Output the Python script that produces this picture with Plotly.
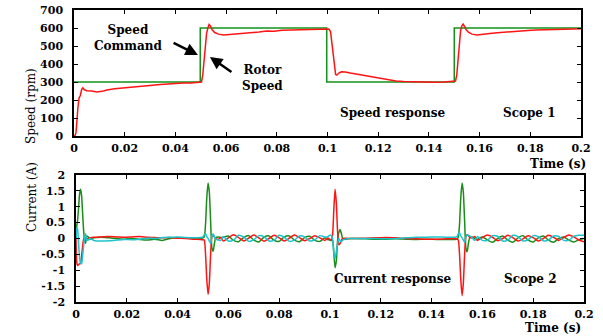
import plotly.graph_objects as go

# ---------------- Scope 1: speed ----------------
cmd_t = [0, 0.0498, 0.0498, 0.0997, 0.0997, 0.1500, 0.1500, 0.2]
cmd_rpm = [300, 300, 600, 600, 300, 300, 600, 600]

rotor_t = [0, 0.0005, 0.0008, 0.001, 0.0015, 0.002, 0.0025, 0.003, 0.0035, 0.004,
           0.005, 0.007, 0.009, 0.011, 0.013, 0.016, 0.019, 0.022, 0.025, 0.028,
           0.031, 0.034, 0.037, 0.040, 0.043, 0.046, 0.049,
           0.0503, 0.0508, 0.0513, 0.0518, 0.0523, 0.0528, 0.0533, 0.0538, 0.0545, 0.0555,
           0.057, 0.059, 0.061, 0.064, 0.067, 0.070, 0.073, 0.076, 0.079, 0.082,
           0.085, 0.088, 0.091, 0.094, 0.097,
           0.1005, 0.1012, 0.1017, 0.1022, 0.1027, 0.1032, 0.1037, 0.1045, 0.1055,
           0.107, 0.109, 0.112, 0.115, 0.118, 0.121, 0.124, 0.127, 0.130, 0.134,
           0.138, 0.142, 0.146,
           0.1505, 0.151, 0.1515, 0.152, 0.1525, 0.153, 0.1535, 0.154, 0.1547, 0.1557,
           0.157, 0.159, 0.161, 0.164, 0.167, 0.170, 0.173, 0.176, 0.179, 0.182,
           0.185, 0.188, 0.191, 0.194, 0.197, 0.200]
rotor_rpm = [0, 5, 20, 70, 150, 212, 225, 258, 268, 258,
             252, 250, 244, 248, 256, 263, 266, 270, 276, 279,
             282, 286, 290, 292, 294, 295, 296,
             300, 340, 430, 510, 570, 600, 620, 612, 590, 575,
             566, 561, 563, 568, 572, 576, 578, 583, 582, 587,
             588, 590, 590, 593, 594,
             594, 580, 520, 440, 370, 342, 338, 350, 357,
             356, 350, 342, 334, 326, 318, 311, 306, 303, 301,
             300, 299, 300,
             305, 340, 430, 520, 585, 612, 622, 610, 590, 575,
             566, 561, 563, 569, 574, 578, 581, 585, 586, 589,
             591, 592, 594, 595, 595, 596]

# ---------------- Scope 2: phase currents ----------------
cur_t = ([0, 0.0003, 0.0006, 0.001, 0.0014, 0.0018, 0.0022, 0.0026, 0.003, 0.0034, 0.0038, 0.0042, 0.0048, 0.0055]
         + [0.007, 0.010, 0.013, 0.016, 0.019, 0.022, 0.025, 0.028, 0.031, 0.034, 0.037, 0.040, 0.043, 0.046]
         + [0.049, 0.050, 0.0505, 0.051, 0.0515, 0.052, 0.0525, 0.053, 0.0535, 0.054, 0.0545, 0.055, 0.056, 0.057]
         + [0.058, 0.060, 0.062, 0.064, 0.066, 0.068, 0.070, 0.072, 0.074, 0.076, 0.078,
            0.080, 0.082, 0.084, 0.086, 0.088, 0.090, 0.092, 0.094, 0.096, 0.098]
         + [0.099, 0.0995, 0.100, 0.1005, 0.101, 0.1015, 0.102, 0.1025, 0.103, 0.1035, 0.104, 0.1045, 0.105, 0.106, 0.107, 0.108]
         + [0.110, 0.114, 0.118, 0.122, 0.126, 0.130, 0.134, 0.138, 0.142, 0.146]
         + [0.149, 0.150, 0.1505, 0.151, 0.1515, 0.152, 0.1525, 0.153, 0.1535, 0.154, 0.1545, 0.155, 0.156, 0.157]
         + [0.158, 0.160, 0.162, 0.164, 0.166, 0.168, 0.170, 0.172, 0.174, 0.176, 0.178,
            0.180, 0.182, 0.184, 0.186, 0.188, 0.190, 0.192, 0.194, 0.196, 0.198, 0.200])

i_red = ([0, -0.75, -0.85, -0.82, -0.80, -0.78, -0.55, -0.25, -0.02, 0.03, 0.00, -0.02, 0.00, 0.02]
         + [0.04, 0.05, 0.06, 0.05, 0.04, 0.05, 0.06, 0.04, 0.03, 0.02, 0.03, 0.01, 0.00, -0.02]
         + [-0.03, -0.04, -0.05, -0.50, -1.30, -1.76, -1.40, -0.50, 0.05, 0.10, 0.05, 0.00, -0.03, 0.03]
         + [-0.08, 0.02, 0.12, 0.03, -0.08, 0.01, 0.11, 0.02, -0.09, 0.00, 0.10,
            0.02, -0.08, 0.01, 0.11, 0.03, -0.07, 0.00, 0.09, 0.02, -0.06]
         + [0.02, 0.00, -0.03, -0.05, 0.10, 0.90, 1.55, 1.10, 0.20, -0.20, -0.15, -0.05, 0.00, 0.01, 0.00, 0.00]
         + [0.00, 0.01, 0.02, 0.03, 0.02, 0.00, -0.01, -0.02, -0.02, -0.01]
         + [0.00, -0.02, -0.05, -0.50, -1.30, -1.80, -1.40, -0.50, 0.05, 0.12, 0.08, 0.04, 0.02, 0.06]
         + [-0.06, 0.03, 0.11, 0.04, -0.07, 0.00, 0.10, 0.03, -0.08, -0.01, 0.09,
            0.03, -0.08, 0.00, 0.10, 0.04, -0.06, 0.03, 0.11, 0.05, -0.05, -0.10])

i_green = ([0, 0.40, 0.55, 0.95, 1.40, 1.55, 1.35, 0.80, 0.25, -0.05, -0.15, 0.08, 0.05, -0.02]
           + [0.02, 0.04, 0.02, 0.00, -0.02, 0.00, -0.03, -0.05, -0.02, -0.06, 0.00, 0.02, 0.01, 0.00]
           + [0.00, 0.02, 0.05, 0.45, 1.30, 1.75, 1.45, 0.55, -0.30, -0.40, -0.15, 0.02, 0.05, 0.03]
           + [0.04, 0.08, -0.06, -0.10, 0.03, 0.09, -0.05, -0.11, 0.04, 0.08, -0.06,
              -0.09, 0.05, 0.08, -0.05, -0.10, 0.03, 0.07, -0.06, -0.09, 0.02]
           + [-0.03, -0.04, -0.05, -0.06, -0.05, -0.45, -0.92, -0.70, -0.05, 0.20, 0.28, 0.15, 0.00, -0.02, -0.01, 0.00]
           + [0.00, -0.01, -0.02, -0.02, -0.01, -0.02, -0.03, -0.02, -0.03, -0.03]
           + [-0.03, -0.02, 0.05, 0.45, 1.30, 1.75, 1.45, 0.55, -0.30, -0.42, -0.15, 0.02, 0.05, 0.00]
           + [-0.02, 0.05, -0.05, -0.12, 0.00, 0.08, -0.05, -0.12, 0.02, 0.09, -0.05,
              -0.11, 0.02, 0.08, -0.05, -0.12, 0.00, 0.05, -0.05, -0.11, -0.04, 0.00])

i_cyan = ([0, 0.35, 0.30, -0.13, -0.60, -0.77, -0.80, -0.55, -0.23, 0.02, 0.15, -0.06, -0.05, 0.00]
          + [-0.06, -0.08, -0.07, -0.05, -0.03, -0.04, -0.02, 0.01, 0.00, 0.03, 0.04, 0.05, 0.03, 0.02]
          + [0.03, 0.05, 0.12, 0.15, 0.06, 0.00, -0.08, -0.15, 0.05, 0.15, 0.05, -0.02, -0.05, -0.06]
          + [0.06, -0.08, -0.05, 0.10, 0.05, -0.09, -0.04, 0.09, 0.06, -0.08, -0.05,
             0.10, 0.04, -0.09, -0.05, 0.08, 0.05, -0.08, -0.04, 0.09, 0.05]
          + [0.05, 0.08, 0.10, 0.10, 0.00, -0.45, -0.63, -0.40, -0.15, 0.00, -0.08, -0.10, -0.05, -0.02, 0.00, 0.00]
          + [0.00, 0.00, 0.00, -0.01, 0.00, 0.02, 0.04, 0.04, 0.05, 0.04]
          + [0.04, 0.06, 0.15, 0.18, 0.08, 0.02, -0.05, -0.12, 0.05, 0.12, 0.10, 0.08, 0.02, -0.06]
          + [0.06, -0.06, -0.06, 0.09, 0.07, -0.08, -0.05, 0.10, 0.06, -0.08, -0.04,
             0.09, 0.06, -0.07, -0.05, 0.08, 0.07, -0.06, -0.06, 0.07, 0.10, 0.10])

x_ticks = [0, 0.02, 0.04, 0.06, 0.08, 0.1, 0.12, 0.14, 0.16, 0.18, 0.2]
x_labels = ["0", "0.02", "0.04", "0.06", "0.08", "0.1", "0.12", "0.14", "0.16", "0.18", "0.2"]
speed_ticks = [0, 100, 200, 300, 400, 500, 600, 700]
cur_ticks = [-2, -1.5, -1, -0.5, 0, 0.5, 1, 1.5, 2]
cur_labels = ["-2", "-1.5", "-1", "-0.5", "0", "0.5", "1", "1.5", "2"]

RED = "#ff1414"
GREEN = "#1a8c1a"
CMD_GREEN = "#13921a"
CYAN = "#1fc3cc"

fig = go.Figure()
fig.add_trace(go.Scatter(x=cmd_t, y=cmd_rpm, mode="lines", line=dict(color=CMD_GREEN, width=1.5),
                         xaxis="x", yaxis="y", showlegend=False))
fig.add_trace(go.Scatter(x=rotor_t, y=rotor_rpm, mode="lines", line=dict(color=RED, width=1.5),
                         xaxis="x", yaxis="y", showlegend=False))
fig.add_trace(go.Scatter(x=cur_t, y=i_green, mode="lines", line=dict(color=GREEN, width=1.5, shape="spline", smoothing=0.6),
                         xaxis="x2", yaxis="y2", showlegend=False))
fig.add_trace(go.Scatter(x=cur_t, y=i_red, mode="lines", line=dict(color=RED, width=1.5, shape="spline", smoothing=0.6),
                         xaxis="x2", yaxis="y2", showlegend=False))
fig.add_trace(go.Scatter(x=cur_t, y=i_cyan, mode="lines", line=dict(color=CYAN, width=1.5, shape="spline", smoothing=0.6),
                         xaxis="x2", yaxis="y2", showlegend=False))

W, H = 603, 336
tickfont = dict(family="DejaVu Serif", size=11, color="black", weight="bold")
axis_common = dict(showline=True, linecolor="black", linewidth=1.5, mirror="ticks",
                   ticks="inside", ticklen=4, tickcolor="black", tickwidth=1,
                   showgrid=False, zeroline=False, tickfont=tickfont, automargin=False)

fig.update_layout(
    width=W, height=H,
    margin=dict(l=0, r=0, t=0, b=0),
    paper_bgcolor="white", plot_bgcolor="white",
    xaxis=dict(domain=[74 / W, 581 / W], range=[0, 0.2], anchor="y",
               tickvals=x_ticks, ticktext=x_labels, ticklabelstandoff=1, **axis_common),
    yaxis=dict(domain=[(H - 136) / H, (H - 10) / H], range=[0, 700], anchor="x",
               tickvals=speed_ticks, ticklabelstandoff=7, **axis_common),
    xaxis2=dict(domain=[76 / W, 584 / W], range=[0, 0.2], anchor="y2",
                tickvals=x_ticks, ticktext=x_labels, ticklabelstandoff=1, **axis_common),
    yaxis2=dict(domain=[(H - 302) / H, (H - 175) / H], range=[-2, 2], anchor="x2",
                tickvals=cur_ticks, ticktext=cur_labels, ticklabelstandoff=7, **axis_common),
)

bold = dict(family="DejaVu Serif", size=12, color="black", weight="bold")
reg = dict(family="DejaVu Serif", size=12, color="black")

ann = [
    dict(text="Speed<br>Command", x=0.0213, y=542, xref="x", yref="y", showarrow=False, font=bold),
    dict(text="Rotor<br>Speed", x=0.0742, y=322, xref="x", yref="y", showarrow=False, font=bold),
    dict(text="Speed response", x=0.1258, y=128, xref="x", yref="y", showarrow=False, font=bold),
    dict(text="Scope 1", x=0.1795, y=128, xref="x", yref="y", showarrow=False, font=bold),
    dict(text="Current response", x=0.1248, y=-1.29, xref="x2", yref="y2", showarrow=False, font=bold),
    dict(text="Scope 2", x=0.1791, y=-1.29, xref="x2", yref="y2", showarrow=False, font=bold),
    dict(text="Time (s)", x=588 / W, y=(H - 164) / H, xref="paper", yref="paper",
         xanchor="right", yanchor="middle", showarrow=False, font=bold),
    dict(text="Time (s)", x=583 / W, y=(H - 328) / H, xref="paper", yref="paper",
         xanchor="right", yanchor="middle", showarrow=False, font=bold),
    dict(text="Speed (rpm)", x=22 / W, y=(H - 66) / H, xref="paper", yref="paper",
         textangle=-90, showarrow=False, font=reg),
    dict(text="Current (A)", x=23 / W, y=(H - 234) / H, xref="paper", yref="paper",
         textangle=-90, showarrow=False, font=reg),
    # arrows
    dict(text="", x=0.0489, y=450, xref="x", yref="y", ax=0.0387, ay=522, axref="x", ayref="y",
         showarrow=True, arrowhead=2, arrowsize=1, arrowwidth=2.5, arrowcolor="black"),
    dict(text="", x=0.0536, y=439, xref="x", yref="y", ax=0.0627, ay=350, axref="x", ayref="y",
         showarrow=True, arrowhead=2, arrowsize=1, arrowwidth=2.5, arrowcolor="black"),
]
fig.update_layout(annotations=ann)

fig.write_html("out.html", config={"displayModeBar": False},
               post_script="document.body.style.margin='0';document.body.style.overflow='hidden';")
